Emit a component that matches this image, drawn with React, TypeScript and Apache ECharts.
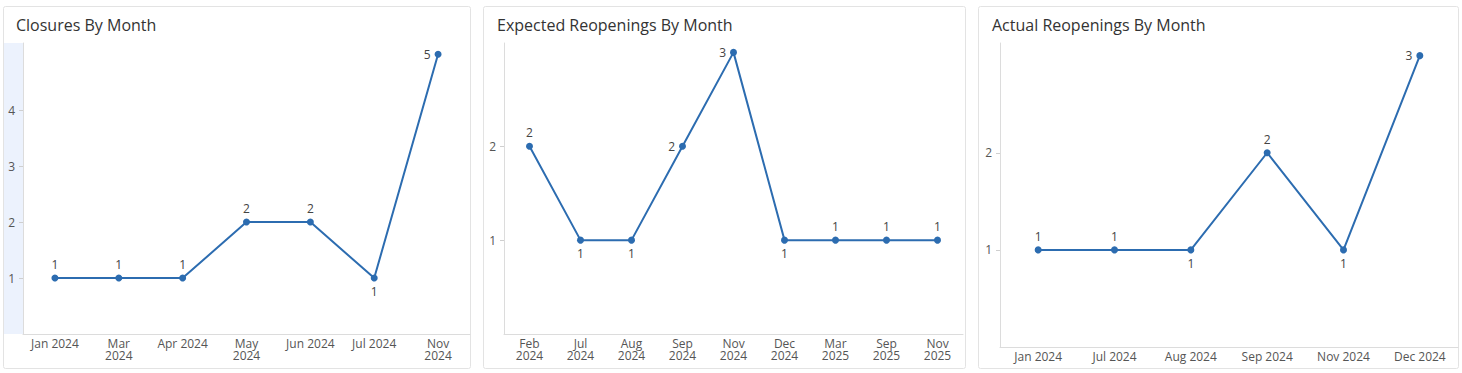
import React, { useEffect, useRef } from "react";
import * as echarts from "echarts";

// ---- Data ----
const closuresMonths = ["Jan 2024", "Mar\n2024", "Apr 2024", "May\n2024", "Jun 2024", "Jul 2024", "Nov\n2024"];
const closuresValues = [1, 1, 1, 2, 2, 1, 5];
const closuresTicks = [1, 2, 3, 4];

const expectedMonths = ["Feb\n2024", "Jul\n2024", "Aug\n2024", "Sep\n2024", "Nov\n2024", "Dec\n2024", "Mar\n2025", "Sep\n2025", "Nov\n2025"];
const expectedValues = [2, 1, 1, 2, 3, 1, 1, 1, 1];
const expectedTicks = [1, 2];

const actualMonths = ["Jan 2024", "Jul 2024", "Aug 2024", "Sep 2024", "Nov 2024", "Dec 2024"];
const actualValues = [1, 1, 1, 2, 1, 3];
const actualTicks = [1, 2];

const titles = ["Closures By Month", "Expected Reopenings By Month", "Actual Reopenings By Month"];

// ---- Styles ----
const closuresLabelPos = ["top", "top", "top", "top", "top", "bottom", "left"];
const expectedLabelPos = ["top", "bottom", "bottom", "left", "left", "bottom", "top", "top", "top"];
const actualLabelPos = ["top", "top", "bottom", "top", "bottom", "left"];

const LINE = "#2c6cb0";
const FONT = "'Open Sans', sans-serif";

export default function App() {
  const ref = useRef<HTMLDivElement>(null);
  useEffect(() => {
    if (!ref.current) return;
    const chart = echarts.init(ref.current, undefined, { renderer: "svg" });

    const panels = [
      { months: closuresMonths, values: closuresValues, ticks: closuresTicks, pos: closuresLabelPos, grid: { left: 23, top: 43, width: 447, height: 291 }, max: 5.2, box: [3, 6, 467, 362], titleX: 16 },
      { months: expectedMonths, values: expectedValues, ticks: expectedTicks, pos: expectedLabelPos, grid: { left: 504, top: 43, width: 459, height: 291 }, max: 3.1, box: [483, 6, 482, 362], titleX: 497 },
      { months: actualMonths, values: actualValues, ticks: actualTicks, pos: actualLabelPos, grid: { left: 1000, top: 43, width: 458, height: 304 }, max: 3.13, box: [978, 6, 480, 362], titleX: 992 },
    ];

    const graphic: any[] = [];
    panels.forEach((p) => {
      graphic.push({
        type: "rect",
        shape: { x: p.box[0] + 0.5, y: p.box[1] + 0.5, width: p.box[2], height: p.box[3], r: 2 },
        style: { fill: "#fff", stroke: "#e3e3e3", lineWidth: 1 },
        z: -10,
        silent: true,
      });
    });
    graphic.push({
      type: "rect",
      shape: { x: 4, y: 43, width: 19, height: 291 },
      style: { fill: "#ecf2fd" },
      z: -5,
      silent: true,
    });

    const option: any = {
      animation: false,
      backgroundColor: "#fff",
      textStyle: { fontFamily: FONT },
      graphic,
      title: panels.map((p, i) => ({
        text: titles[i],
        left: p.titleX - 5,
        top: 12,
        textStyle: { fontFamily: FONT, fontSize: 16, fontWeight: "normal", color: "#333" },
      })),
      grid: panels.map((p) => ({ ...p.grid, containLabel: false })),
      xAxis: panels.map((p, i) => ({
        type: "category",
        gridIndex: i,
        data: p.months,
        boundaryGap: true,
        axisLine: { show: true, lineStyle: { color: "#dcdcdc", width: 1 } },
        axisTick: { show: false },
        axisLabel: { color: "#555", fontSize: 12, fontFamily: FONT, margin: 3, lineHeight: 12.5, interval: 0 },
        splitLine: { show: false },
      })),
      yAxis: panels.map((p, i) => ({
        type: "value",
        gridIndex: i,
        min: 0,
        max: p.max,
        axisLine: { show: true, lineStyle: { color: "#dcdcdc", width: 1 } },
        axisTick: { show: true, length: 4, lineStyle: { color: "#cfcfcf" }, customValues: p.ticks },
        axisLabel: { color: "#555", fontSize: 12, fontFamily: FONT, margin: 8, customValues: p.ticks },
        splitLine: { show: false },
      })),
      series: panels.map((p, i) => ({
        type: "line",
        xAxisIndex: i,
        yAxisIndex: i,
        data: p.values.map((v, j) => ({ value: v, label: { position: p.pos[j] } })),
        symbol: "circle",
        symbolSize: 7,
        lineStyle: { color: LINE, width: 2 },
        itemStyle: { color: LINE },
        label: { show: true, color: "#444", fontSize: 12, fontFamily: FONT, distance: 4 },
      })),
    };
    chart.setOption(option);
    return () => chart.dispose();
  }, []);
  return <div ref={ref} style={{ position: "absolute", left: 0, top: 0, width: 1462, height: 373 }} />;
}
